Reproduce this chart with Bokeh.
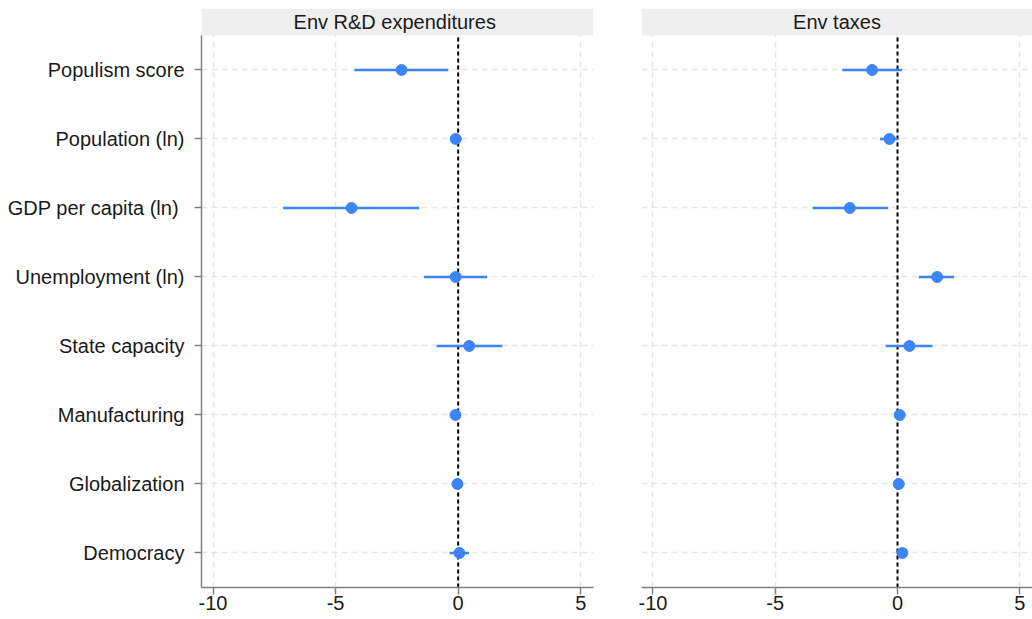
from bokeh.plotting import figure
from bokeh.layouts import row
from bokeh.models import FixedTicker, ColumnDataSource, Range1d
from bokeh.core.properties import value
from bokeh.embed import file_html
from bokeh.resources import INLINE

# ---- data ----
variables = ["Populism score", "Population (ln)", "GDP per capita (ln) ",
             "Unemployment (ln)", "State capacity", "Manufacturing",
             "Globalization", "Democracy"]
positions = [8, 7, 6, 5, 4, 3, 2, 1]

rd_est = [-2.31, -0.10, -4.35, -0.10, 0.45, -0.11, -0.03, 0.05]
rd_lo = [-4.23, -0.33, -7.14, -1.39, -0.88, -0.22, -0.08, -0.35]
rd_hi = [-0.40, 0.15, -1.59, 1.18, 1.80, 0.00, 0.02, 0.44]

tax_est = [-1.04, -0.33, -1.95, 1.62, 0.49, 0.09, 0.05, 0.20]
tax_lo = [-2.26, -0.72, -3.47, 0.87, -0.48, 0.02, 0.00, 0.12]
tax_hi = [0.18, 0.03, -0.38, 2.31, 1.43, 0.16, 0.10, 0.28]

panel_titles = ["Env R&D  expenditures", "Env taxes"]
x_ticks = [-10, -5, 0, 5]
x_tick_labels = ["-10", "-5", "0", "5"]

FONT = "Liberation Sans"
BLUE = "#3d85f6"
X0, X1 = -10.47, 5.52
ROW_LO, ROW_HI = 0.5, 8.5
PX_PER_ROW = 553 / 8.0
STRIP_PX = 27
Y_TOP = ROW_HI + STRIP_PX / PX_PER_ROW


def make_panel(title, est, lo, hi, show_y, frame_w, border_left, border_right):
    p = figure(output_backend="svg", toolbar_location=None,
               frame_width=frame_w, frame_height=579,
               x_range=Range1d(X0, X1), y_range=Range1d(ROW_LO, Y_TOP),
               min_border_left=border_left, min_border_right=border_right,
               min_border_top=8, min_border_bottom=0)
    p.outline_line_color = None
    p.background_fill_color = "white"

    # grids
    for g in (p.xgrid, p.ygrid):
        g.grid_line_color = "#e6e6e6"
        g.grid_line_dash = "6 4"
        g.grid_line_width = 1.5
    p.xaxis.ticker = FixedTicker(ticks=x_ticks)
    p.xgrid.ticker = FixedTicker(ticks=x_ticks)
    p.yaxis.ticker = FixedTicker(ticks=positions)
    p.ygrid.ticker = FixedTicker(ticks=positions)

    # axes
    p.xaxis.axis_line_color = "#808080"
    p.xaxis.axis_line_width = 1.5
    p.xaxis.major_tick_line_color = "#808080"
    p.xaxis.major_tick_line_width = 1.5
    p.xaxis.major_tick_out = 7
    p.xaxis.major_tick_in = 0
    p.xaxis.minor_tick_line_color = None
    p.xaxis.major_label_text_font = FONT
    p.xaxis.major_label_text_font_size = "20px"
    p.xaxis.major_label_text_color = "#1a1a1a"
    p.xaxis.major_label_standoff = 1
    p.xaxis.major_label_overrides = {t: s for t, s in zip(x_ticks, x_tick_labels)}

    if show_y:
        p.yaxis.bounds = (ROW_LO, ROW_HI)
        p.yaxis.axis_line_color = "#808080"
        p.yaxis.axis_line_width = 1.5
        p.yaxis.major_tick_line_color = "#808080"
        p.yaxis.major_tick_line_width = 1.5
        p.yaxis.major_tick_out = 7
        p.yaxis.major_tick_in = 0
        p.yaxis.minor_tick_line_color = None
        p.yaxis.major_label_text_font = FONT
        p.yaxis.major_label_text_font_size = "20px"
        p.yaxis.major_label_text_color = "#1a1a1a"
        p.yaxis.major_label_standoff = 10
        p.yaxis.major_label_overrides = {pos: name for pos, name in zip(positions, variables)}
    else:
        p.yaxis.visible = False

    # zero reference line
    p.segment(x0=[0], y0=[ROW_LO], x1=[0], y1=[ROW_HI],
              line_color="black", line_width=2, line_dash="4 3")

    src = ColumnDataSource(dict(y=positions, est=est, lo=lo, hi=hi))
    p.segment(x0="lo", y0="y", x1="hi", y1="y", source=src,
              line_color=BLUE, line_width=2.6)
    p.scatter(x="est", y="y", source=src, size=11,
              fill_color=BLUE, line_color=BLUE)

    # title strip
    p.quad(left=[X0], right=[X1], bottom=[ROW_HI], top=[Y_TOP],
           fill_color="#efefef", line_color=None)
    p.text(x=[(X0 + X1) / 2], y=[(ROW_HI + Y_TOP) / 2], text=[title],
           text_font=value(FONT), text_font_size="20px", text_color="#1a1a1a",
           text_align="center", text_baseline="middle")
    return p


left = make_panel(panel_titles[0], rd_est, rd_lo, rd_hi, True, 392, 201, 20)
right = make_panel(panel_titles[1], tax_est, tax_lo, tax_hi, False, 391, 28, 0)

layout = row(left, right, spacing=0)
open("out.html", "w").write(file_html(layout, INLINE))
